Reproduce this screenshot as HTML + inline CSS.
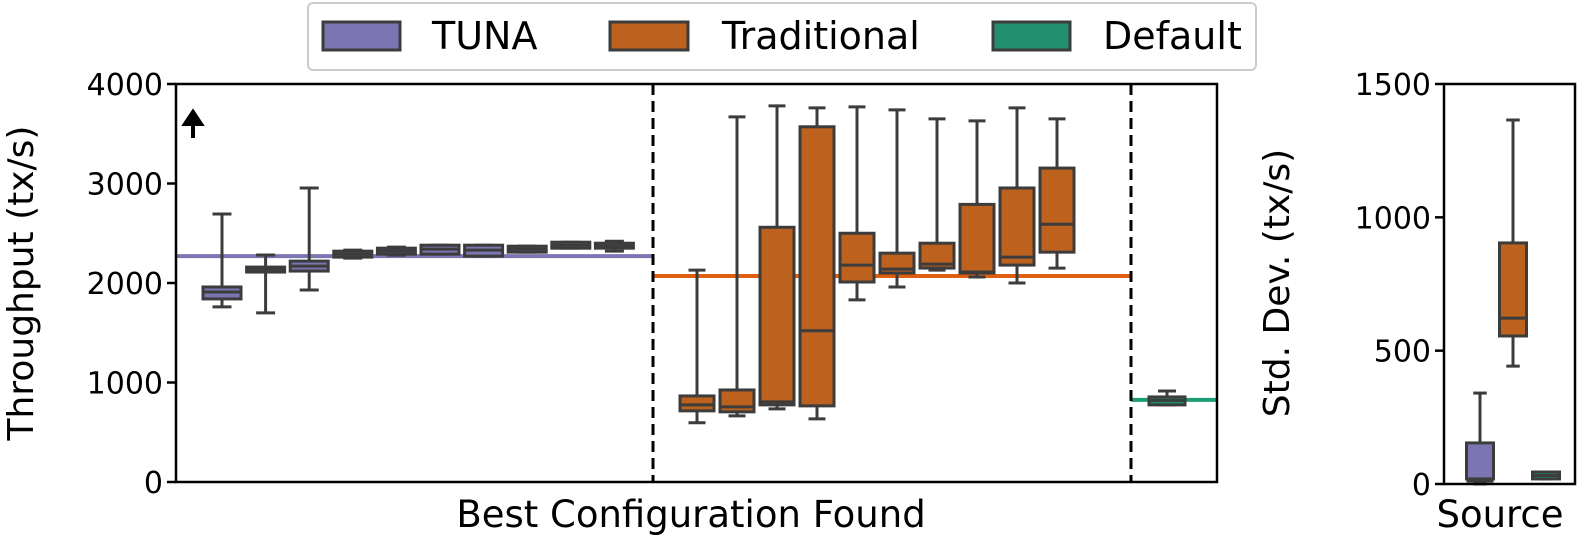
<!DOCTYPE html>
<html><head><meta charset="utf-8"><style>
body{margin:0;background:#fff;}
svg{display:block;font-family:"DejaVu Sans","Liberation Sans",sans-serif;}
</style></head><body>
<svg id="chart" width="1578" height="538" xmlns="http://www.w3.org/2000/svg">
<g id="main"></g>
<g id="side"></g>
<g id="legend">
  <rect x="308" y="3" width="948" height="67" rx="5" fill="#fff" stroke="#ccc" stroke-width="2"/>
  <g><rect x="323" y="22" width="77" height="28" fill="#7b76b1" stroke="#3c3c3c" stroke-width="3"/><text x="432" y="49" font-size="38">TUNA</text></g>
  <g><rect x="610" y="22" width="78" height="28" fill="#bd611e" stroke="#3c3c3c" stroke-width="3"/><text x="722" y="49" font-size="38">Traditional</text></g>
  <g><rect x="993" y="22" width="77" height="28" fill="#22906f" stroke="#3c3c3c" stroke-width="3"/><text x="1103" y="49" font-size="38">Default</text></g>
</g>
</svg>
<script>
// Main plot data: [low whisker, Q1, median, Q3, high whisker]
const tunaBoxes = [
 [1760,1840,1910,1960,2693],[1700,2110,2140,2160,2281],[1930,2120,2170,2220,2955],
 [2250,2260,2290,2320,2330],[2280,2290,2320,2350,2360],[2290,2290,2340,2380,2380],
 [2270,2270,2330,2380,2380],[2310,2310,2340,2370,2370],[2350,2350,2380,2410,2410],
 [2320,2350,2370,2400,2420]];
const tradBoxes = [
 [595,715,775,865,2130],[665,705,755,925,3670],[735,775,805,2560,3780],
 [635,765,1520,3570,3760],[1830,2010,2180,2500,3770],[1960,2100,2140,2300,3740],
 [2130,2150,2190,2400,3650],[2060,2100,2110,2790,3630],[2000,2180,2260,2955,3760],
 [2150,2310,2590,3155,3650]];
const defaultBoxes = [[775,775,820,855,915]];
const meanLines = [2270, 2070, 825];
const yTicks = [0,1000,2000,3000,4000];
// Side plot
const sideBoxes = [[0,19,11,154,341],[442,555,622,904,1365],[19,19,32,45,45]];
const sideTicks = [0,500,1000,1500];
const colors = ['#7b76b1','#bd611e','#22906f'];
const lineColors = ['#7b76b1','#e06010','#1b9e77'];
const NS='http://www.w3.org/2000/svg';
function el(tag, attrs, parent){const e=document.createElementNS(NS,tag);for(const k in attrs)e.setAttribute(k,attrs[k]);parent.appendChild(e);return e;}
const main=document.getElementById('main'), side=document.getElementById('side');
const X0=176,X1=1217,Y0=482,Y1=84;
const y=v=>Y0-(v/4000)*(Y0-Y1);
const groups=[{b:tunaBoxes,x0:176,x1:653,start:222,step:43.6,w:38},{b:tradBoxes,x0:653,x1:1131,start:697,step:40,w:34},{b:defaultBoxes,x0:1131,x1:1217,start:1167,step:40,w:36}];
function drawBox(parent,bx,d,w,sy,fill,name){
  const g=el('g',{},parent);
  
  
  const st='#3c3c3c';
  el('line',{x1:bx,x2:bx,y1:sy(d[3]),y2:sy(d[4]),stroke:st,'stroke-width':3},g);
  el('line',{x1:bx,x2:bx,y1:sy(d[1]),y2:sy(d[0]),stroke:st,'stroke-width':3},g);
  el('line',{x1:bx-w/4,x2:bx+w/4,y1:sy(d[4]),y2:sy(d[4]),stroke:st,'stroke-width':3},g);
  el('line',{x1:bx-w/4,x2:bx+w/4,y1:sy(d[0]),y2:sy(d[0]),stroke:st,'stroke-width':3},g);
  el('rect',{x:bx-w/2,y:sy(d[3]),width:w,height:Math.max(sy(d[1])-sy(d[3]),0.5),fill:fill,stroke:st,'stroke-width':3},g);
  el('line',{x1:bx-w/2,x2:bx+w/2,y1:sy(d[2]),y2:sy(d[2]),stroke:st,'stroke-width':3},g);
}
groups.forEach((G,gi)=>{
  const ml=el('line',{x1:G.x0,x2:G.x1,y1:y(meanLines[gi]),y2:y(meanLines[gi]),stroke:lineColors[gi],'stroke-width':4},main);
  
  
  G.b.forEach((d,i)=>drawBox(main,G.start+G.step*i,d,G.w,y,colors[gi],'box'));
});
[653,1131].forEach(x=>{const l=el('line',{x1:x,x2:x,y1:Y1,y2:Y0,stroke:'#000','stroke-width':3,'stroke-dasharray':'11,6'},main);
  
  });
el('rect',{x:X0,y:Y1,width:X1-X0,height:Y0-Y1,fill:'none',stroke:'#000','stroke-width':2.5},main);
yTicks.forEach(t=>{el('line',{x1:X0-9,x2:X0,y1:y(t),y2:y(t),stroke:'#000','stroke-width':2.5},main);
  const tx=el('text',{x:X0-13,y:y(t)+11,'font-size':30,'text-anchor':'end'},main);tx.textContent=t;
  
  });
const yl=el('text',{x:0,y:0,'font-size':36,'text-anchor':'middle',transform:'translate(33,283) rotate(-90)'},main);yl.textContent='Throughput (tx/s)';


const xl=el('text',{x:691,y:527,'font-size':37,'text-anchor':'middle'},main);xl.textContent='Best Configuration Found';


const ar=el('path',{d:'M193 138 V122 M185 124 L193 112 L201 124 Z',stroke:'#000','stroke-width':4,fill:'#000'},main);


// side
const SX0=1444,SX1=1575,SY0=484,SY1=84;
const sy=v=>SY0-(v/1500)*(SY0-SY1);
sideBoxes.forEach((d,i)=>drawBox(side,1480+33*i,d,27,sy,colors[i],'std-box'));
el('rect',{x:SX0,y:SY1,width:SX1-SX0,height:SY0-SY1,fill:'none',stroke:'#000','stroke-width':2.5},side);
sideTicks.forEach(t=>{el('line',{x1:SX0-9,x2:SX0,y1:sy(t),y2:sy(t),stroke:'#000','stroke-width':2.5},side);
  const tx=el('text',{x:SX0-13,y:sy(t)+11,'font-size':30,'text-anchor':'end'},side);tx.textContent=t;
  
  });
const sl=el('text',{x:0,y:0,'font-size':36,'text-anchor':'middle',transform:'translate(1289,283) rotate(-90)'},side);sl.textContent='Std. Dev. (tx/s)';


const sx=el('text',{x:1500,y:527,'font-size':37,'text-anchor':'middle'},side);sx.textContent='Source';


</script>
</body></html>
